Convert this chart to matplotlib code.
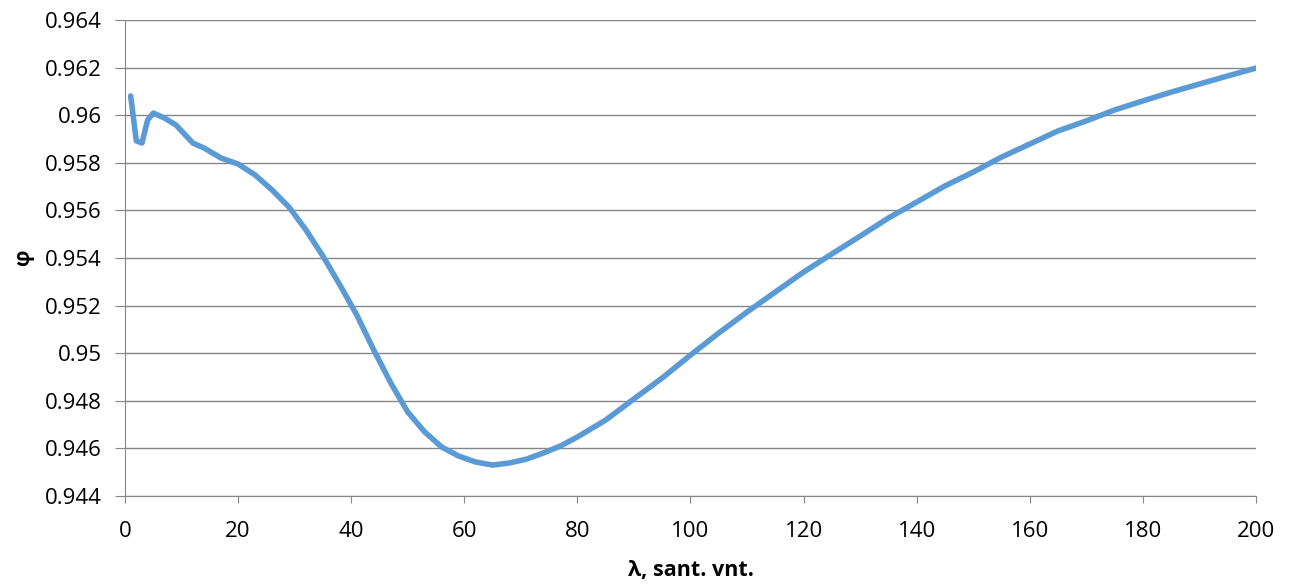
import matplotlib.pyplot as plt
from matplotlib.ticker import FuncFormatter

# duomenys nuskaityti nuo grafiko
lam = [1, 2, 3, 4, 5, 7, 9, 12, 14, 17, 20, 23, 26, 29, 32, 35, 38, 41, 44, 47,
       50, 53, 56, 59, 62, 65, 68, 71, 74, 77, 80, 85, 90, 95, 100, 105, 110,
       115, 120, 125, 130, 135, 140, 145, 150, 155, 160, 165, 170, 175, 180,
       185, 190, 195, 200]
phi = [0.96081, 0.95892, 0.95883, 0.95980, 0.96009, 0.95988, 0.95959, 0.95883,
       0.95862, 0.95820, 0.95795, 0.95749, 0.95686, 0.95614, 0.95518, 0.95408,
       0.95287, 0.95160, 0.95013, 0.94875, 0.94753, 0.94669, 0.94606, 0.94568,
       0.94543, 0.94530, 0.94539, 0.94555, 0.94581, 0.94610, 0.94648, 0.94719,
       0.94808, 0.94896, 0.94992, 0.95085, 0.95173, 0.95257, 0.95341, 0.95417,
       0.95492, 0.95568, 0.95635, 0.95703, 0.95761, 0.95824, 0.95879, 0.95934,
       0.95976, 0.96022, 0.96060, 0.96097, 0.96131, 0.96165, 0.96198]
x_ticks = list(range(0, 201, 20))
y_ticks = [0.944, 0.946, 0.948, 0.95, 0.952, 0.954, 0.956, 0.958, 0.96, 0.962, 0.964]

plt.rcParams['font.family'] = ['Open Sans', 'DejaVu Sans']

fig = plt.figure(figsize=(12.94, 5.85), dpi=100)
ax = fig.add_axes([0.0966, 0.1521, 0.874, 0.8137])

ax.plot(lam, phi, color='#5B9BD5', lw=4, solid_capstyle='round', solid_joinstyle='round')

ax.set_xlim(0, 200)
ax.set_ylim(0.944, 0.964)
ax.set_xticks(x_ticks)
ax.set_yticks(y_ticks)
ax.yaxis.set_major_formatter(FuncFormatter(lambda v, p: ('%.3f' % v).rstrip('0')))
ax.grid(axis='y', color='#868686', lw=1)
ax.set_axisbelow(True)

for s in ['top', 'right']:
    ax.spines[s].set_visible(False)
for s in ['left', 'bottom']:
    ax.spines[s].set_color('#868686')
ax.tick_params(axis='both', colors='#868686', labelcolor='black', labelsize=16, direction='out')
ax.tick_params(axis='x', length=5, pad=13)
ax.tick_params(axis='y', length=7, pad=9.5)

ax.set_xlabel('λ, sant. vnt.', fontsize=15.5, fontweight='bold', labelpad=13)
ax.set_ylabel('φ', fontsize=15, fontweight='bold', rotation=90, labelpad=8)

fig.savefig('out.png', dpi=100)
